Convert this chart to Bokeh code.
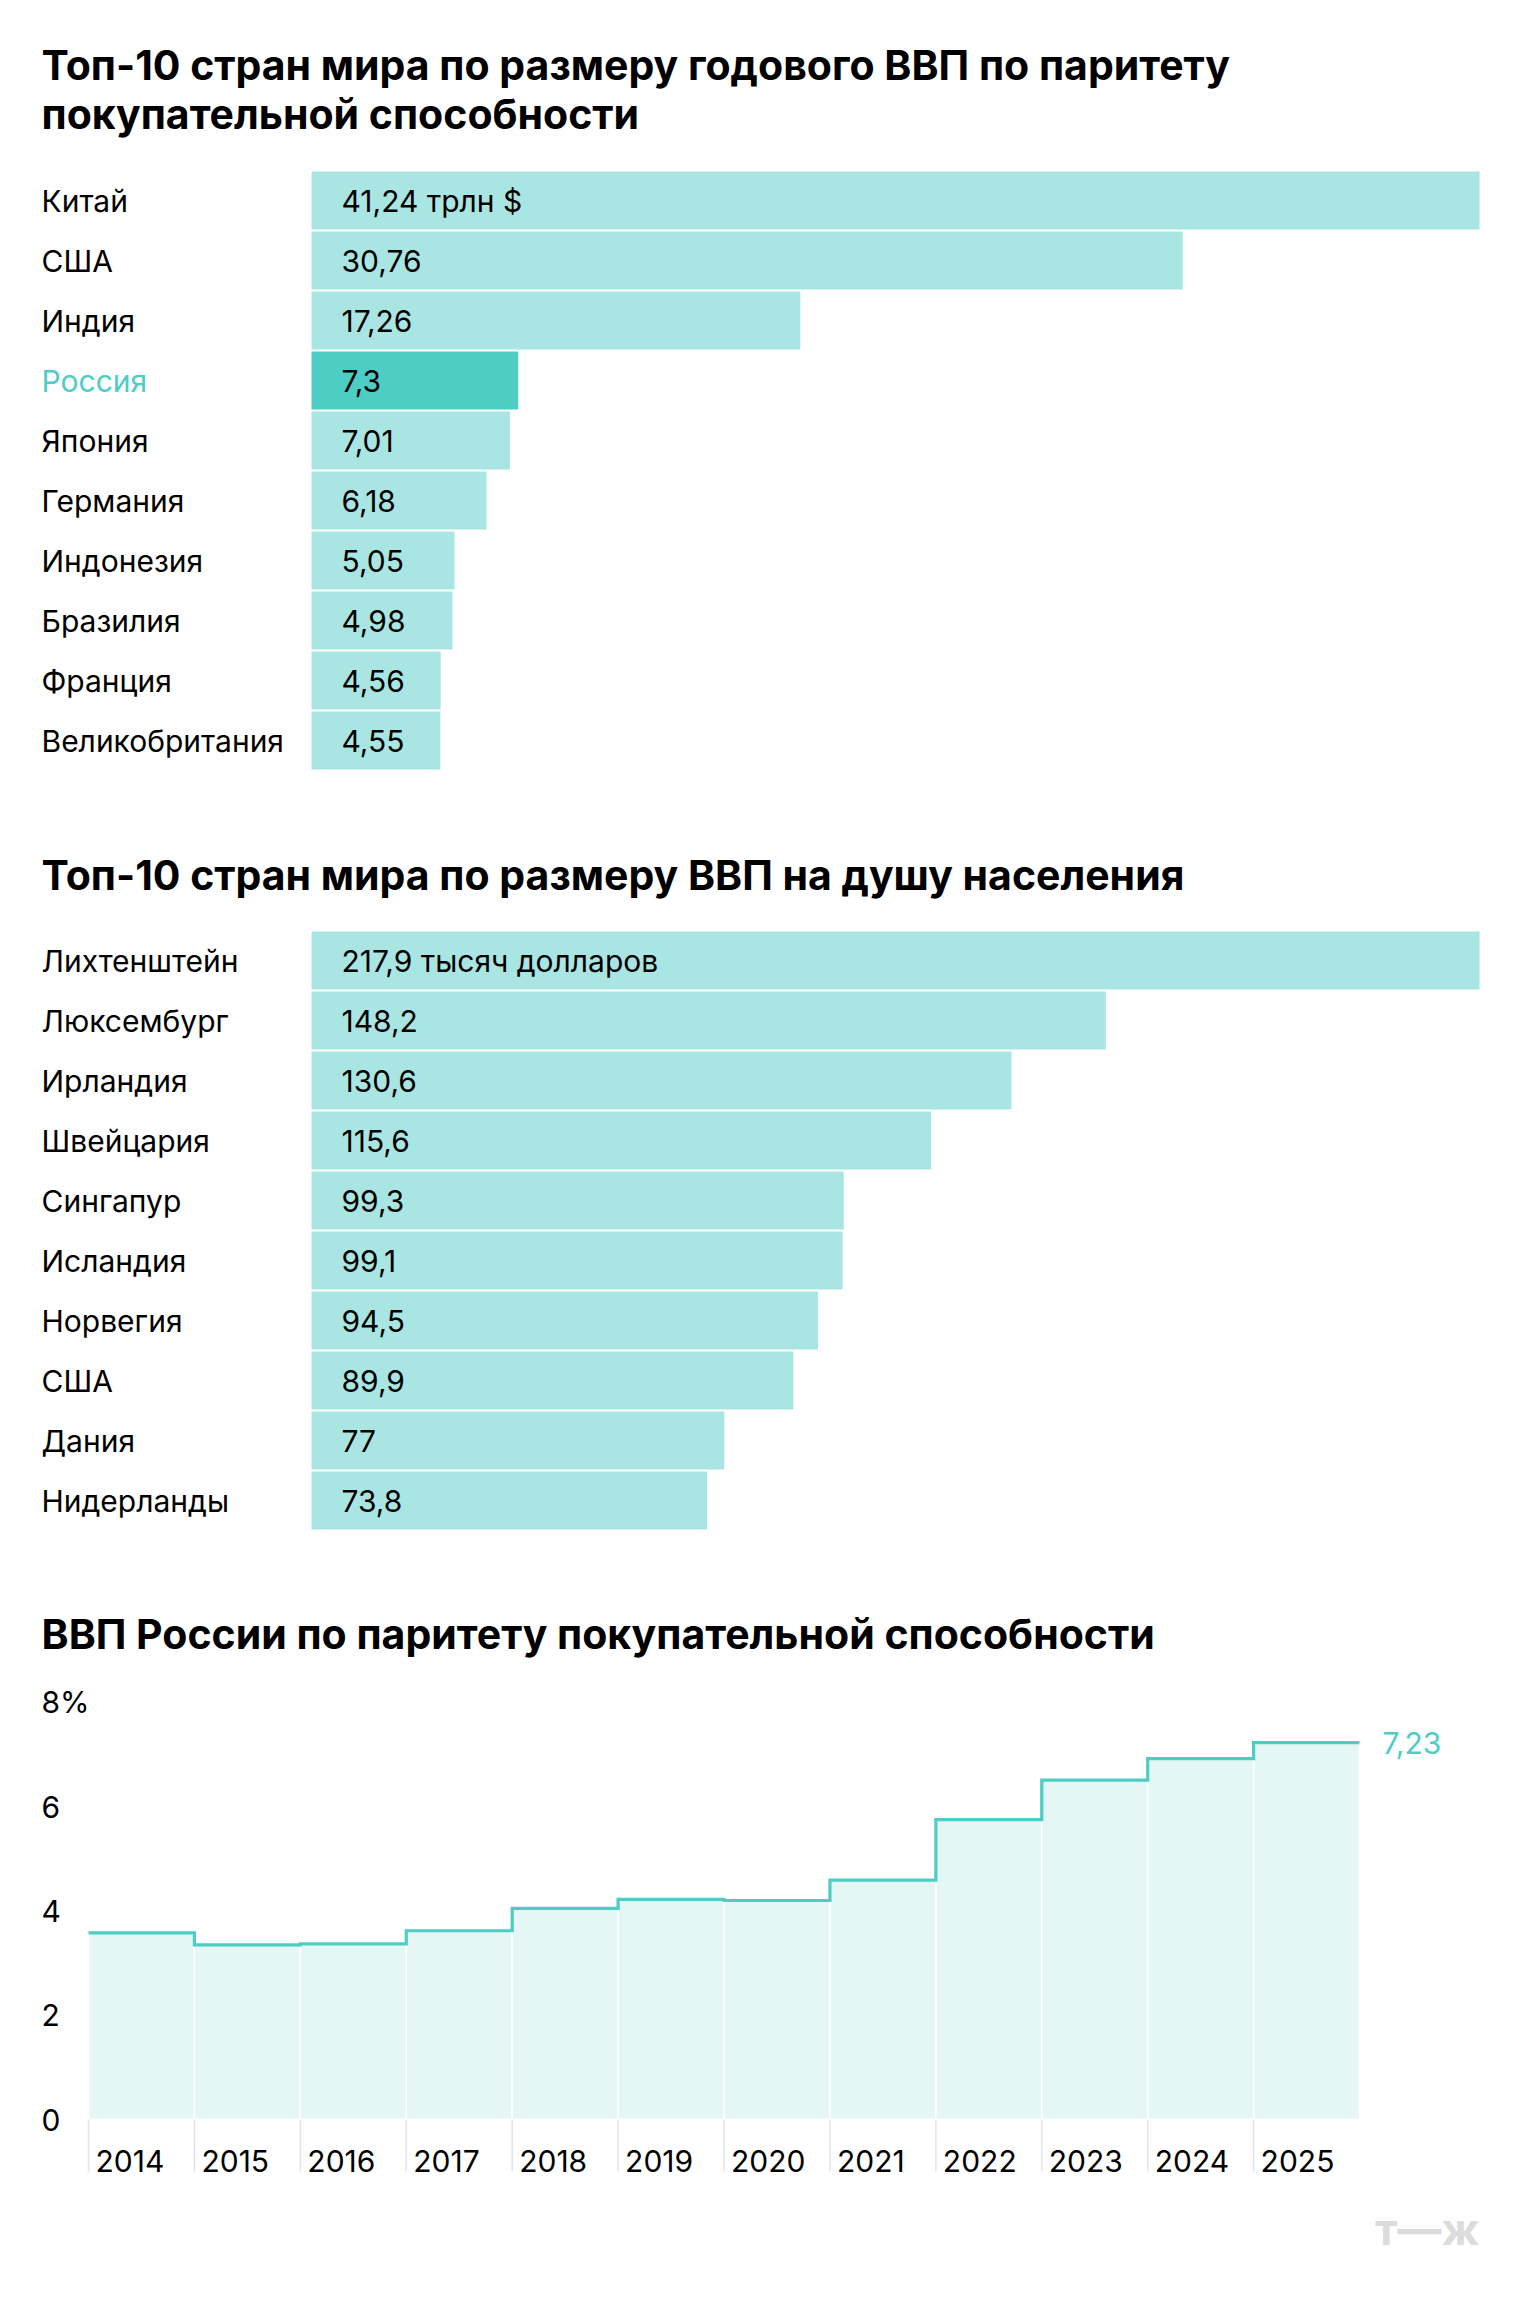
from bokeh.plotting import figure
from bokeh.models import ColumnDataSource, Range1d, Label
from bokeh.layouts import column
from bokeh.core.properties import value
from bokeh.embed import file_html
from bokeh.resources import INLINE

# --- data -------------------------------------------------------------
ppp_title = ["Топ-10 стран мира по размеру годового ВВП по паритету",
             "покупательной способности"]
ppp_countries = ["Китай", "США", "Индия", "Россия", "Япония", "Германия",
                 "Индонезия", "Бразилия", "Франция", "Великобритания"]
ppp_values = [41.24, 30.76, 17.26, 7.3, 7.01, 6.18, 5.05, 4.98, 4.56, 4.55]
ppp_unit = " трлн $"

pc_title = ["Топ-10 стран мира по размеру ВВП на душу населения"]
pc_countries = ["Лихтенштейн", "Люксембург", "Ирландия", "Швейцария", "Сингапур",
                "Исландия", "Норвегия", "США", "Дания", "Нидерланды"]
pc_values = [217.9, 148.2, 130.6, 115.6, 99.3, 99.1, 94.5, 89.9, 77, 73.8]
pc_unit = " тысяч долларов"

ru_title = "ВВП России по паритету покупательной способности"
ru_years = [2014, 2015, 2016, 2017, 2018, 2019, 2020, 2021, 2022, 2023, 2024, 2025]
ru_values = [3.58, 3.35, 3.37, 3.62, 4.05, 4.22, 4.20, 4.59, 5.75, 6.51, 6.92, 7.23]
ru_ticks = [0, 2, 4, 6, 8]
ru_tick_labels = ["0", "2", "4", "6", "8%"]

highlight = "Россия"

# --- style ------------------------------------------------------------
FONT = "Inter"
INK = "#000000"
LIGHT = "#A9E6E3"
DARK = "#4ECDC5"
AREA = "#E5F7F5"
TICK = "#E4E4E4"
MARK = "#DCDCDC"

W = 1520
LABEL_X = 41          # left edge of all text columns, px
BAR_LEFT = 311        # bar baseline, px
BAR_RIGHT = 1479      # end of the longest bar, px
ROW_PITCH = 60
VALUE_PAD = 30
TITLE_SIZE = "41px"
TEXT_SIZE = "30px"


def fmt(v):
    return f"{v:g}".replace(".", ",")


def base_figure(height, x_range, y_range):
    p = figure(width=W, height=height, x_range=x_range, y_range=y_range,
               output_backend="svg", toolbar_location=None, title=None,
               x_axis_location=None, y_axis_location=None,
               min_border=0, outline_line_color=None,
               background_fill_color="white", border_fill_color="white")
    p.grid.visible = False
    return p


def title_label(x, y, x_offset, text):
    return Label(x=x, y=y, x_offset=x_offset, text=text,
                 text_align="left", text_baseline="middle",
                 text_font=FONT, text_font_style="bold",
                 text_font_size=TITLE_SIZE, text_color=INK)


def bar_panel(names, vals, unit, title_lines, height, first_row_px, title_centers):
    k = (BAR_RIGHT - BAR_LEFT) / max(vals)
    x_range = Range1d(-BAR_LEFT / k, (W - BAR_LEFT) / k)
    y_range = Range1d((height - first_row_px) / ROW_PITCH, -first_row_px / ROW_PITCH)
    p = base_figure(height, x_range, y_range)

    def row_at(px):
        return (px - first_row_px) / ROW_PITCH

    src = ColumnDataSource(dict(
        row=list(range(len(names))),
        name=names,
        val=vals,
        label=[fmt(v) + (unit if i == 0 else "") for i, v in enumerate(vals)],
        color=[DARK if n == highlight else LIGHT for n in names],
        name_color=[DARK if n == highlight else INK for n in names],
    ))
    p.hbar(y="row", left=0, right="val", height=0.97, fill_color="color",
           line_color=None, source=src)
    p.text(x=0, y="row", text="name", x_offset=-(BAR_LEFT - LABEL_X),
           text_align="left", text_baseline="middle", text_color="name_color",
           text_font=value(FONT), text_font_size=TEXT_SIZE, source=src)
    p.text(x=0, y="row", text="label", x_offset=VALUE_PAD,
           text_align="left", text_baseline="middle", text_color=INK,
           text_font=value(FONT), text_font_size=TEXT_SIZE, source=src)

    for line, c in zip(title_lines, title_centers):
        p.add_layout(title_label(0, row_at(c), -(BAR_LEFT - LABEL_X), line))
    return p


p1 = bar_panel(ppp_countries, ppp_values, ppp_unit, ppp_title,
               height=820, first_row_px=200, title_centers=[64, 113])
p2 = bar_panel(pc_countries, pc_values, pc_unit, pc_title,
               height=740, first_row_px=140, title_centers=[54])

# --- step chart ---------------------------------------------------------
H3 = 740
PLOT_LEFT = 88        # px
YEAR_W = 105.92       # px per year
BASE_PX = 559         # y of zero, px from top of this panel
UNIT_PX = 52.14       # px per unit

first = ru_years[0]
x3 = Range1d(first - PLOT_LEFT / YEAR_W, first + (W - PLOT_LEFT) / YEAR_W)
y3 = Range1d(-(H3 - BASE_PX) / UNIT_PX, BASE_PX / UNIT_PX)
p3 = base_figure(H3, x3, y3)


def y_at(px):
    return (BASE_PX - px) / UNIT_PX


def x_at(px):
    return first + (px - PLOT_LEFT) / YEAR_W


edges = ru_years + [ru_years[-1] + 1]
area = ColumnDataSource(dict(left=ru_years, right=[y + 1 for y in ru_years],
                             top=ru_values, label=[str(y) for y in ru_years]))
p3.quad(left="left", right="right", bottom=0, top="top", source=area,
        fill_color=AREA, line_color="white", line_width=1.5)
p3.segment(x0="left", x1="left", y0=0, y1=y_at(611), source=area,
           line_color=TICK, line_width=1.5)
p3.step(x=edges, y=ru_values + [ru_values[-1]], mode="after",
        line_color=DARK, line_width=3.2, line_join="miter")

p3.text(x="left", y=y_at(600), text="label", x_offset=7, source=area,
        text_align="left", text_baseline="middle", text_color=INK,
        text_font=value(FONT), text_font_size=TEXT_SIZE)

ticks = ColumnDataSource(dict(y=ru_ticks, label=ru_tick_labels))
p3.text(x=first, y="y", text="label", x_offset=-(PLOT_LEFT - LABEL_X), source=ticks,
        text_align="left", text_baseline="middle", text_color=INK,
        text_font=value(FONT), text_font_size=TEXT_SIZE)

p3.text(x=[edges[-1]], y=[ru_values[-1]], text=[fmt(ru_values[-1])], x_offset=23,
        text_align="left", text_baseline="middle", text_color=DARK,
        text_font=value(FONT), text_font_size=TEXT_SIZE)

p3.add_layout(title_label(first, y_at(73), -(PLOT_LEFT - LABEL_X), ru_title))

# т—ж mark in the corner
p3.add_layout(Label(x=x_at(1479), y=y_at(668), text="т—ж", text_align="right",
                    text_baseline="middle", text_font=FONT,
                    text_font_style="bold", text_font_size="44px",
                    text_color=MARK))

layout = column(p1, p2, p3, spacing=0)
open("out.html", "w").write(file_html(layout, INLINE))
